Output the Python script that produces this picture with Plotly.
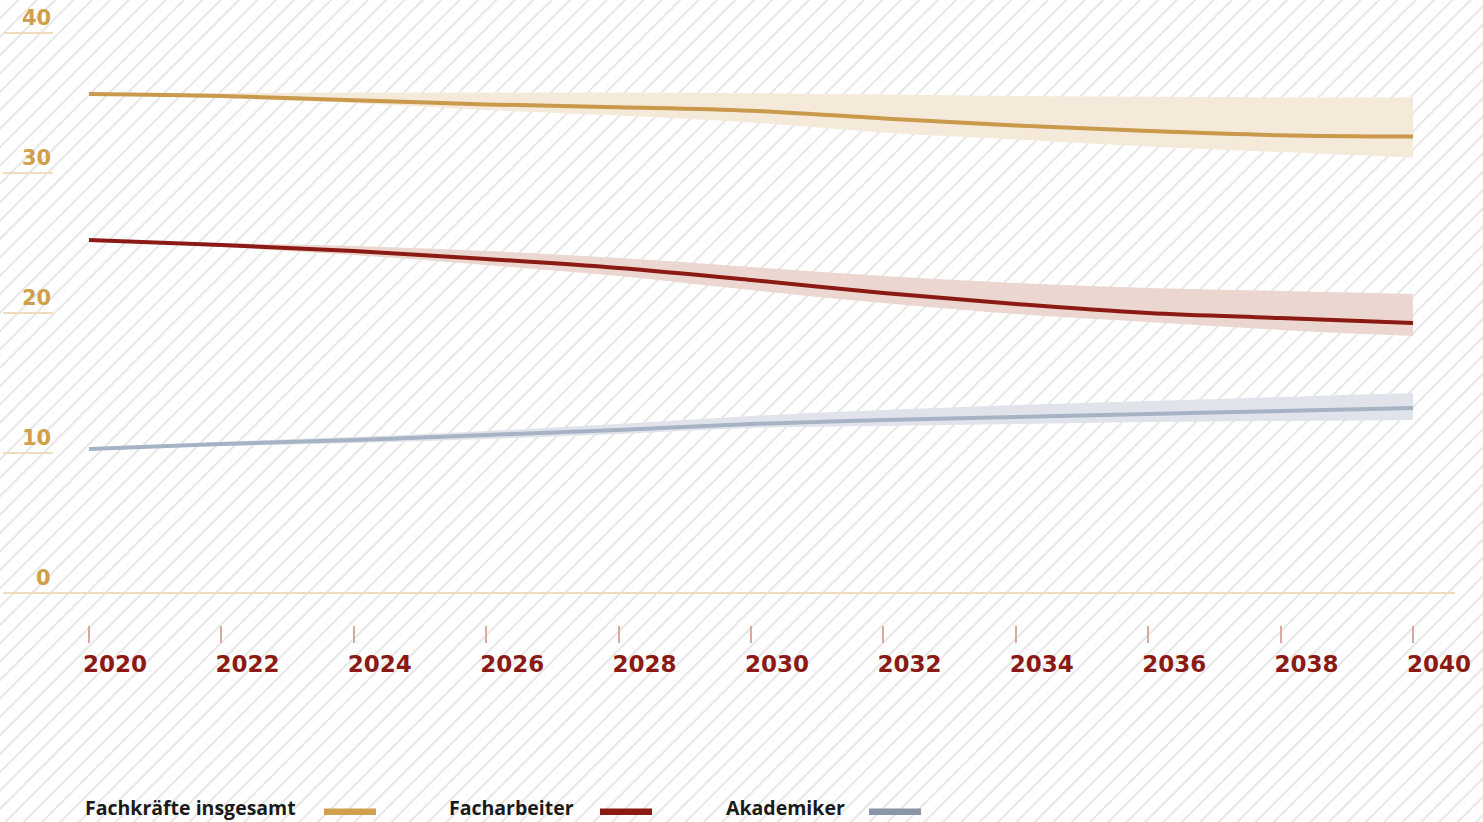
import plotly.graph_objects as go

W, H = 1483, 822

# ---------------- data ----------------
years = [2020, 2022, 2024, 2026, 2028, 2030, 2032, 2034, 2036, 2038, 2040]
x_tick_labels = ["2020", "2022", "2024", "2026", "2028", "2030", "2032", "2034", "2036", "2038", "2040"]
y_tick_values = [0, 10, 20, 30, 40]
y_tick_labels = ["0", "10", "20", "30", "40"]

fach_mid = [35.64, 35.5, 35.2, 34.9, 34.7, 34.45, 33.9, 33.4, 33.0, 32.7, 32.6]
fach_hi = [35.64, 35.7, 35.75, 35.75, 35.75, 35.7, 35.6, 35.5, 35.45, 35.4, 35.4]
fach_lo = [35.64, 35.35, 35.0, 34.5, 34.1, 33.6, 32.9, 32.4, 31.9, 31.5, 31.1]

arb_mid = [25.21, 24.86, 24.43, 23.86, 23.21, 22.36, 21.43, 20.64, 20.0, 19.64, 19.29]
arb_hi = [25.21, 25.0, 24.79, 24.43, 23.93, 23.29, 22.64, 22.14, 21.79, 21.57, 21.36]
arb_lo = [25.21, 24.71, 24.14, 23.43, 22.64, 21.64, 20.71, 19.93, 19.36, 18.79, 18.36]

aka_mid = [10.29, 10.64, 10.93, 11.29, 11.64, 12.07, 12.36, 12.57, 12.79, 13.0, 13.21]
aka_hi = [10.29, 10.79, 11.14, 11.57, 12.07, 12.64, 13.07, 13.43, 13.71, 14.0, 14.29]
aka_lo = [10.29, 10.5, 10.71, 11.0, 11.36, 11.79, 11.93, 12.07, 12.21, 12.29, 12.36]

series_names = ["Fachkräfte insgesamt", "Facharbeiter", "Akademiker"]

# ---------------- styles ----------------
GOLD, GOLD_BAND, GOLD_LEG = "#c99a4b", "#f5e9da", "#d1a04f"
RED, RED_BAND, RED_LEG = "#8b1a14", "#ebd6d0", "#8c1a14"
GRAY, GRAY_BAND, GRAY_LEG = "#a6b3c4", "#e0e4ea", "#8a96a8"
AXIS_TAN = "#f0dcbc"
YLAB = "#cf9f4a"
XLAB = "#8b1a14"

def px_x(px):
    return px / W

def px_y(py):
    return 1 - py / H

fig = go.Figure()

# hatched page background (full-page helper axes)
fig.add_trace(go.Scatter(
    x=[0, 1, 1, 0, 0], y=[0, 0, 1, 1, 0], mode="lines", fill="toself",
    line=dict(width=0), fillcolor="white",
    fillpattern=dict(shape="/", size=13, solidity=0.12, fgcolor="#e2e2e2", bgcolor="white"),
    hoverinfo="skip", showlegend=False, xaxis="x", yaxis="y"))

def add_series(mid, hi, lo, col, band):
    fig.add_trace(go.Scatter(x=years, y=hi, mode="lines", line=dict(width=0, shape="spline"),
                             hoverinfo="skip", showlegend=False, xaxis="x2", yaxis="y2"))
    fig.add_trace(go.Scatter(x=years, y=lo, mode="lines", line=dict(width=0, shape="spline"),
                             fill="tonexty", fillcolor=band,
                             hoverinfo="skip", showlegend=False, xaxis="x2", yaxis="y2"))
    fig.add_trace(go.Scatter(x=years, y=mid, mode="lines", line=dict(width=4, color=col, shape="spline"),
                             showlegend=False, xaxis="x2", yaxis="y2"))

add_series(fach_mid, fach_hi, fach_lo, GOLD, GOLD_BAND)
add_series(arb_mid, arb_hi, arb_lo, RED, RED_BAND)
add_series(aka_mid, aka_hi, aka_lo, GRAY, GRAY_BAND)

shapes = []
annotations = []

# zero axis line and y-label underlines
shapes.append(dict(type="line", xref="paper", yref="y2", x0=px_x(3), x1=px_x(1455), y0=0, y1=0,
                   line=dict(color=AXIS_TAN, width=2), layer="above"))
for v, t in zip(y_tick_values, y_tick_labels):
    if v != 0:
        shapes.append(dict(type="line", xref="paper", yref="y2", x0=px_x(3), x1=px_x(53), y0=v, y1=v,
                           line=dict(color=AXIS_TAN, width=2)))
    annotations.append(dict(text=t, xref="paper", yref="y2", x=px_x(53), y=v,
                            xanchor="right", yanchor="bottom", yshift=1, showarrow=False,
                            font=dict(family="DejaVu Sans", size=21, color=YLAB, weight="bold")))

# legend (text followed by swatch)
leg = [
    (series_names[0], 83, 324, 376, GOLD_LEG),
    (series_names[1], 447, 600, 652, RED_LEG),
    (series_names[2], 724, 869, 921, GRAY_LEG),
]
for name, tx, s0, s1, c in leg:
    annotations.append(dict(text=name, xref="paper", yref="paper", x=px_x(tx), y=px_y(807),
                            xanchor="left", yanchor="middle", showarrow=False,
                            font=dict(family="Open Sans", size=19.5, color="#1a1a1a", weight="bold")))
    shapes.append(dict(type="rect", xref="paper", yref="paper", x0=px_x(s0), x1=px_x(s1),
                       y0=px_y(815), y1=px_y(808.5), fillcolor=c, line=dict(width=0)))

y_bottom_px = 625
fig.update_layout(
    width=W, height=H, template="none",
    margin=dict(l=0, r=0, t=0, b=0, pad=0),
    paper_bgcolor="white", plot_bgcolor="rgba(0,0,0,0)",
    showlegend=False,
    xaxis=dict(domain=[0, 1], range=[0, 1], visible=False, fixedrange=True),
    yaxis=dict(domain=[0, 1], range=[0, 1], visible=False, fixedrange=True),
    xaxis2=dict(domain=[0, 1], anchor="y2", range=[2020 - 89 / 66.2, 2020 + (W - 89) / 66.2],
                tickmode="array", tickvals=years, ticktext=x_tick_labels,
                ticks="outside", ticklen=17, tickwidth=2, tickcolor="#d9a99c",
                showline=False, showgrid=False, zeroline=False, automargin=False,
                ticklabelshift=26, ticklabelstandoff=1,
                tickfont=dict(family="DejaVu Sans", size=23, color=XLAB, weight="bold")),
    yaxis2=dict(domain=[1 - y_bottom_px / H, 1], anchor="x2",
                range=[-(y_bottom_px - 593) / 14, 593 / 14],
                showticklabels=False, ticks="", showline=False, showgrid=False, zeroline=False,
                automargin=False),
    shapes=shapes, annotations=annotations,
)

fig.write_html("out.html")
